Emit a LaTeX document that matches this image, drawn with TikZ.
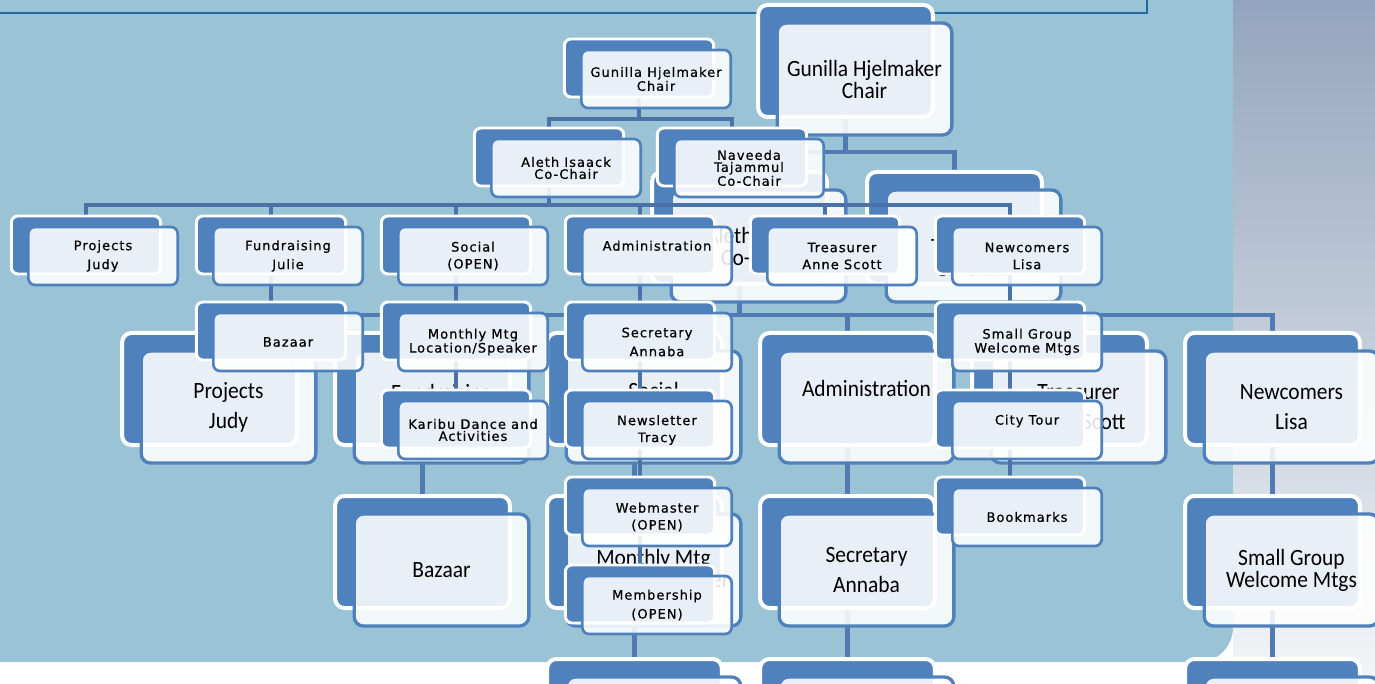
\documentclass[tikz,border=0pt]{standalone}
\usepackage{fontspec}
\newfontfamily\bigfont{Carlito}[FakeStretch=0.92]
\newfontfamily\smallfont{DejaVu Sans}[LetterSpace=8,FakeBold=0.6]
\definecolor{myblue}{RGB}{79,129,189}
\definecolor{mybg}{RGB}{154,195,214}
\definecolor{bigedge}{RGB}{79,122,178}
\definecolor{smalledge}{RGB}{74,114,168}
\definecolor{topline}{RGB}{31,106,160}
\definecolor{paneltop}{RGB}{147,165,190}
\definecolor{panelmid}{RGB}{214,218,228}
\definecolor{panelbot}{RGB}{244,245,248}
\usetikzlibrary{positioning,calc}

\pgfdeclarelayer{backdrop}
\pgfdeclarelayer{bigedges}
\pgfdeclarelayer{bigboxes}
\pgfdeclarelayer{smalledges}
\pgfsetlayers{backdrop,bigedges,bigboxes,smalledges,main}

\begin{document}
\begin{tikzpicture}[x=0.75pt,y=-0.75pt,
        bigback/.style={draw=white,line width=3pt,fill=myblue,rounded corners=7pt,
          minimum width=131pt,minimum height=84pt,inner sep=0pt},
        bigfront/.style={bigback,draw=myblue,line width=2.5pt,fill=white,fill opacity=0.88,
          text opacity=1,align=center,font=\bigfont\fontsize{17.5}{16.5}\selectfont},
        smallback/.style={draw=white,line width=2.2pt,fill=myblue,rounded corners=5pt,
          minimum width=112pt,minimum height=43.5pt,inner sep=0pt},
        smallfront/.style={smallback,draw=myblue,line width=2pt,fill=white,fill opacity=0.88,
          text opacity=1,align=center,font=\smallfont\fontsize{9.75}{9}\selectfont},
        bigline/.style={draw=bigedge,line width=3.5pt},
        smallline/.style={draw=smalledge,line width=3pt}
        ]
        \useasboundingbox (0,0) rectangle (1375,684);
        \clip (0,0) rectangle (1375,684);

        % the backdrop
        \begin{pgfonlayer}{backdrop}
        \fill[mybg] (0,0) -- (1233,0) [rounded corners=26pt] -- (1233,662) [sharp corners] -- (0,662) -- cycle;
        \shade[top color=paneltop,middle color=panelmid,bottom color=panelbot] (1233,0) rectangle (1375,684);
        \draw[topline,line width=1.5pt] (0,13) -| (1147,0);
        \end{pgfonlayer}

        % the big chart
        \begin{pgfonlayer}{bigboxes}
        \node[bigback] (gChairb) at (845.5,61) {};
        \node[bigfront] (gChair) at ($(gChairb)+(19,18)$) {Gunilla Hjelmaker\\Chair};
        \node[bigback] (gAlethb) at (739.5,228) {};
        \node[bigfront] (gAleth) at ($(gAlethb)+(19,18)$) {Aleth Isaack\\Co-Chair};
        \node[bigback] (gNaveedab) at (954.5,228) {};
        \node[bigfront] (gNaveeda) at ($(gNaveedab)+(19,18)$) {Naveeda\\Tajammul\\Co-Chair};

        \node[bigback] (gProjb) at (209.5,389) {};
        \node[bigfront] (gProj) at ($(gProjb)+(19,18)$) {Projects\\[6pt]Judy};
        \node[bigback] (gFundb) at (422.5,389) {};
        \node[bigfront] (gFund) at ($(gFundb)+(19,18)$) {Fundraising\\[6pt]Julie};
        \node[bigback] (gSocialb) at (634.5,389) {};
        \node[bigfront] (gSocial) at ($(gSocialb)+(19,18)$) {Social\\[6pt](OPEN)};
        \node[bigback] (gAdminb) at (847.5,389) {};
        \node[bigfront] (gAdmin) at ($(gAdminb)+(19,18)$) {Administration\\[6pt]\strut};
        \node[bigback] (gTreasb) at (1059.5,389) {};
        \node[bigfront] (gTreas) at ($(gTreasb)+(19,18)$) {Treasurer\\[6pt]Anne Scott};
        \node[bigback] (gNewcb) at (1272.5,389) {};
        \node[bigfront] (gNewc) at ($(gNewcb)+(19,18)$) {Newcomers\\[6pt]Lisa};

        \node[bigback] (gBazaarb) at (422.5,552) {};
        \node[bigfront] (gBazaar) at ($(gBazaarb)+(19,18)$) {Bazaar};
        \node[bigback] (gMonthlyb) at (634.5,552) {};
        \node[bigfront] (gMonthly) at ($(gMonthlyb)+(19,18)$) {Monthly Mtg\\Location/Speaker};
        \node[bigback] (gSecretb) at (847.5,552) {};
        \node[bigfront] (gSecret) at ($(gSecretb)+(19,18)$) {Secretary\\[6pt]Annaba};
        \node[bigback] (gSmallb) at (1272.5,552) {};
        \node[bigfront] (gSmall) at ($(gSmallb)+(19,18)$) {Small Group\\Welcome Mtgs};

        \node[bigback] (gSocialLowb) at (634.5,715) {};
        \node[bigfront] (gSocialLow) at ($(gSocialLowb)+(19,18)$) {};
        \node[bigback] (gAdminLowb) at (847.5,715) {};
        \node[bigfront] (gAdminLow) at ($(gAdminLowb)+(19,18)$) {};
        \node[bigback] (gNewcLowb) at (1272.5,715) {};
        \node[bigfront] (gNewcLow) at ($(gNewcLowb)+(19,18)$) {};
        \end{pgfonlayer}

        % the big connectors
        \coordinate (gBar1) at (0,152);
        \coordinate (gBar2) at (0,315);
        \begin{pgfonlayer}{bigedges}
        \draw[bigline] (gChairb) -- (gChairb |- gBar1) -| (gAlethb);
        \draw[bigline] (gChairb |- gBar1) -| (gNaveedab);
        \foreach \n in {gProjb,gFundb,gSocialb,gAdminb,gTreasb,gNewcb}
          \draw[bigline] (gAlethb) -- (gAlethb |- gBar2) -| (\n);
        \draw[bigline] (gFundb) -- (gBazaarb);
        \draw[bigline] (gSocialb) -- (gSocialLowb);
        \draw[bigline] (gAdminb) -- (gAdminLowb);
        \draw[bigline] (gNewcb) -- (gNewcLowb);
        \end{pgfonlayer}

        % the small chart
        \node[smallback] (sChairb) at (639,68) {};
        \node[smallfront] (sChair) at ($(sChairb)+(17,11)$) {Gunilla Hjelmaker\\Chair};
        \node[smallback] (sAlethb) at (549,157) {};
        \node[smallfront] (sAleth) at ($(sAlethb)+(17,11)$) {Aleth Isaack\\Co-Chair};
        \node[smallback] (sNaveedab) at (732,157) {};
        \node[smallfront] (sNaveeda) at ($(sNaveedab)+(17,11)$) {Naveeda\\Tajammul\\Co-Chair};

        \node[smallback] (sProjb) at (86,245) {};
        \node[smallfront] (sProj) at ($(sProjb)+(17,11)$) {Projects\\[3.75pt]Judy};
        \node[smallback] (sFundb) at (271,245) {};
        \node[smallfront] (sFund) at ($(sFundb)+(17,11)$) {Fundraising\\[3.75pt]Julie};
        \node[smallback] (sSocialb) at (456,245) {};
        \node[smallfront] (sSocial) at ($(sSocialb)+(17,11)$) {Social\\[3.75pt](OPEN)};
        \node[smallback] (sAdminb) at (640,245) {};
        \node[smallfront] (sAdmin) at ($(sAdminb)+(17,11)$) {Administration\\[3.75pt]\strut};
        \node[smallback] (sTreasb) at (825,245) {};
        \node[smallfront] (sTreas) at ($(sTreasb)+(17,11)$) {Treasurer\\[3.75pt]Anne Scott};
        \node[smallback] (sNewcb) at (1010,245) {};
        \node[smallfront] (sNewc) at ($(sNewcb)+(17,11)$) {Newcomers\\[3.75pt]Lisa};

        % fundraising and social
        \node[smallback] (sBazaarb) at (271,331) {};
        \node[smallfront] (sBazaar) at ($(sBazaarb)+(17,11)$) {Bazaar};
        \node[smallback] (sMonthlyb) at (456,331) {};
        \node[smallfront] (sMonthly) at ($(sMonthlyb)+(17,11)$) {Monthly Mtg\\Location/Speaker};
        \node[smallback] (sKaribub) at (456,419) {};
        \node[smallfront] (sKaribu) at ($(sKaribub)+(17,11)$) {Karibu Dance and\\Activities};

        % administration
        \node[smallback] (sSecretb) at (640,331) {};
        \node[smallfront] (sSecret) at ($(sSecretb)+(17,11)$) {Secretary\\[3.75pt]Annaba};
        \node[smallback] (sNewsb) at (640,419) {};
        \node[smallfront] (sNews) at ($(sNewsb)+(17,11)$) {Newsletter\\[3.75pt]Tracy};
        \node[smallback] (sWebb) at (640,506) {};
        \node[smallfront] (sWeb) at ($(sWebb)+(17,11)$) {Webmaster\\[3.75pt](OPEN)};
        \node[smallback] (sMemberb) at (640,594) {};
        \node[smallfront] (sMember) at ($(sMemberb)+(17,11)$) {Membership\\[3.75pt](OPEN)};

        % newcomers
        \node[smallback] (sSmallb) at (1010,331) {};
        \node[smallfront] (sSmall) at ($(sSmallb)+(17,11)$) {Small Group\\Welcome Mtgs};
        \node[smallback] (sCityb) at (1010,419) {};
        \node[smallfront] (sCity) at ($(sCityb)+(17,11)$) {City Tour\\[3.75pt]\strut};
        \node[smallback] (sBookb) at (1010,506) {};
        \node[smallfront] (sBook) at ($(sBookb)+(17,11)$) {Bookmarks};

        % the small connectors
        \coordinate (sBar1) at (0,119);
        \coordinate (sBar2) at (0,205);
        \begin{pgfonlayer}{smalledges}
        \draw[smallline] (sChairb) -- (sChairb |- sBar1) -| (sAlethb);
        \draw[smallline] (sChairb |- sBar1) -| (sNaveedab);
        \foreach \n in {sProjb,sFundb,sSocialb,sAdminb,sTreasb,sNewcb}
          \draw[smallline] (sAlethb) -- (sAlethb |- sBar2) -| (\n);
        \draw[smallline] (sFundb) -- (sBazaarb);
        \draw[smallline] (sSocialb) -- (sKaribub);
        \draw[smallline] (sAdminb) -- (sMemberb);
        \draw[smallline] (sNewcb) -- (sBookb);
        \end{pgfonlayer}
        \end{tikzpicture}
\end{document}
